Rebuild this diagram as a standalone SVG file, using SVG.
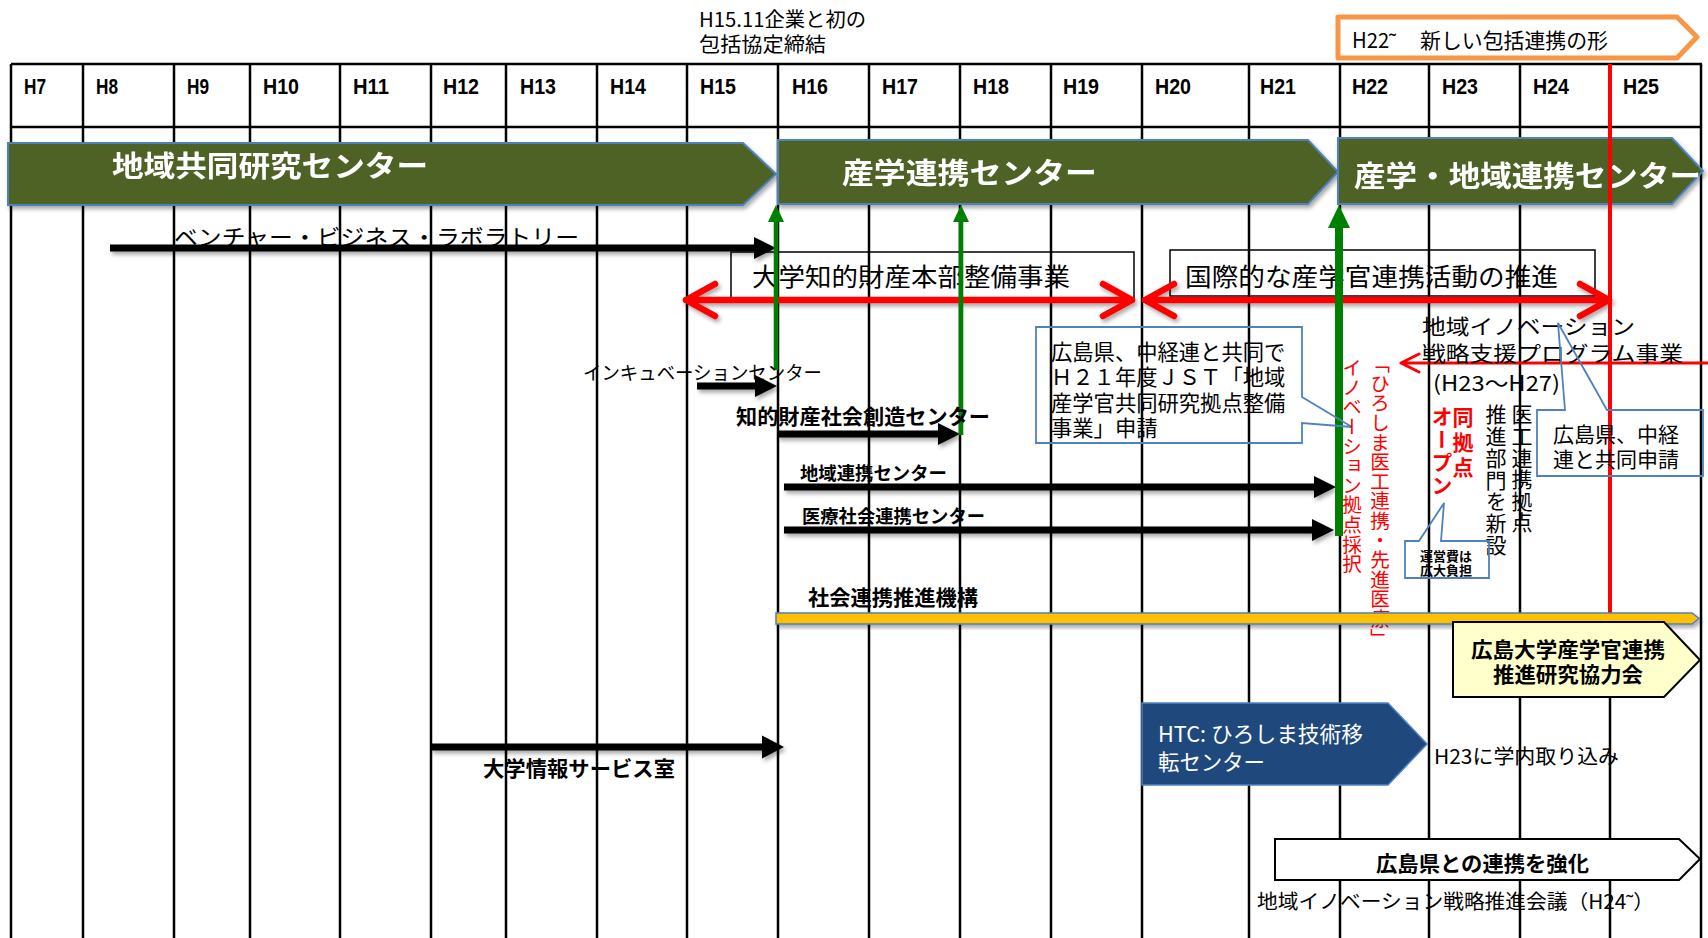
<svg xmlns="http://www.w3.org/2000/svg" width="1708" height="938" viewBox="0 0 1708 938">
<defs>
<style>
.grid{stroke:#000;stroke-width:2.5;fill:none}
.hdr{font-family:"Liberation Sans Narrow","Liberation Sans",sans-serif;font-weight:bold;font-size:22px;fill:#000}
.jp{font-family:"Noto Sans CJK JP","Noto Sans CJK SC",sans-serif;fill:#000;dominant-baseline:central}
.b{font-weight:bold}
.w{fill:#fff}
.r{fill:#f00}
.vt{writing-mode:vertical-rl}
.banner{fill:#4F6228;stroke:#4F81BD;stroke-width:2}
.callout{fill:none;stroke:#4F81BD;stroke-width:1.8}
.box{fill:none;stroke:#000;stroke-width:1.5}
.blk{fill:#000}
.red{stroke:#f00;fill:none;stroke-linecap:round;stroke-linejoin:round}
.grn{fill:#008000}
</style>
<filter id="sh" x="-5%" y="-30%" width="110%" height="180%">
<feDropShadow dx="2" dy="3" stdDeviation="2" flood-color="#000" flood-opacity="0.35"/>
</filter>
</defs>
<rect width="1708" height="938" fill="#fff"/>

<g id="table">
<path class="grid" d="M11,64H1702M11,127H1702"/>
<path class="grid" d="M11,64V938M83,64V938M174,64V938M250,64V938M340,64V938M431,64V938M506,64V938M597,64V938M687,64V938M778,64V938M869,64V938M960,64V938M1051,64V938M1142,64V938M1249,64V938M1340,64V938M1429,64V938M1520,64V938M1610,64V938M1701,64V938"/>
<text class="hdr" x="24" y="94" textLength="22" lengthAdjust="spacingAndGlyphs">H7</text>
<text class="hdr" x="96" y="94" textLength="22" lengthAdjust="spacingAndGlyphs">H8</text>
<text class="hdr" x="187" y="94" textLength="22" lengthAdjust="spacingAndGlyphs">H9</text>
<text class="hdr" x="263" y="94" textLength="36" lengthAdjust="spacingAndGlyphs">H10</text>
<text class="hdr" x="353" y="94" textLength="36" lengthAdjust="spacingAndGlyphs">H11</text>
<text class="hdr" x="443" y="94" textLength="36" lengthAdjust="spacingAndGlyphs">H12</text>
<text class="hdr" x="520" y="94" textLength="36" lengthAdjust="spacingAndGlyphs">H13</text>
<text class="hdr" x="610" y="94" textLength="36" lengthAdjust="spacingAndGlyphs">H14</text>
<text class="hdr" x="700" y="94" textLength="36" lengthAdjust="spacingAndGlyphs">H15</text>
<text class="hdr" x="792" y="94" textLength="36" lengthAdjust="spacingAndGlyphs">H16</text>
<text class="hdr" x="882" y="94" textLength="36" lengthAdjust="spacingAndGlyphs">H17</text>
<text class="hdr" x="973" y="94" textLength="36" lengthAdjust="spacingAndGlyphs">H18</text>
<text class="hdr" x="1063" y="94" textLength="36" lengthAdjust="spacingAndGlyphs">H19</text>
<text class="hdr" x="1155" y="94" textLength="36" lengthAdjust="spacingAndGlyphs">H20</text>
<text class="hdr" x="1260" y="94" textLength="36" lengthAdjust="spacingAndGlyphs">H21</text>
<text class="hdr" x="1352" y="94" textLength="36" lengthAdjust="spacingAndGlyphs">H22</text>
<text class="hdr" x="1442" y="94" textLength="36" lengthAdjust="spacingAndGlyphs">H23</text>
<text class="hdr" x="1533" y="94" textLength="36" lengthAdjust="spacingAndGlyphs">H24</text>
<text class="hdr" x="1623" y="94" textLength="36" lengthAdjust="spacingAndGlyphs">H25</text>
</g>

<g id="note-h15">
<text class="jp" x="699" y="18" font-size="20" textLength="167" lengthAdjust="spacingAndGlyphs">H15.11企業と初の</text>
<text class="jp" x="699" y="43" font-size="20" textLength="127" lengthAdjust="spacingAndGlyphs">包括協定締結</text>
</g>

<g id="new-form">
<path d="M1338,17H1677L1697,37L1677,58H1338Z" fill="#fff" stroke="#F79646" stroke-width="5" stroke-linejoin="round"/>
<text class="jp" x="1352" y="39" font-size="21" textLength="44" lengthAdjust="spacingAndGlyphs">H22˜</text>
<text class="jp" x="1420" y="39" font-size="21" textLength="188" lengthAdjust="spacingAndGlyphs">新しい包括連携の形</text>
</g>

<g id="center1" filter="url(#sh)">
<path class="banner" d="M8,143H743L776,174L743,205H8Z"/>
<text class="jp b w" x="112" y="164" font-size="29" textLength="316" lengthAdjust="spacingAndGlyphs">地域共同研究センター</text>
</g>
<g id="center2" filter="url(#sh)">
<path class="banner" d="M778,140H1308L1338,172L1308,204H778Z"/>
<text class="jp b w" x="842" y="171" font-size="29" textLength="255" lengthAdjust="spacingAndGlyphs">産学連携センター</text>
</g>
<g id="center3" filter="url(#sh)">
<path class="banner" d="M1338,138H1672L1703,171L1672,204H1338Z"/>
<text class="jp b w" x="1354" y="174" font-size="29" textLength="347" lengthAdjust="spacingAndGlyphs">産学・地域連携センター</text>
</g>

<g id="ip-hq">
<rect class="box" x="731" y="252" width="403" height="47"/>
<text class="jp" x="752" y="275" font-size="25" textLength="318" lengthAdjust="spacingAndGlyphs">大学知的財産本部整備事業</text>
</g>
<g id="intl">
<rect class="box" x="1170" y="250" width="425" height="46"/>
<text class="jp" x="1185" y="275" font-size="25" textLength="373" lengthAdjust="spacingAndGlyphs">国際的な産学官連携活動の推進</text>
</g>

<g id="connectors">
<g filter="url(#sh)">
<path class="blk" d="M110,244.5H754V237L776,248L754,259V251.5H110Z"/>
<path class="blk" d="M697,382.5H755V375L777,386L755,397V389.5H697Z"/>
<path class="blk" d="M777,430.5H938V423L960,434L938,445V437.5H777Z"/>
<path class="blk" d="M784,483.5H1314V476L1336,487L1314,498V490.5H784Z"/>
<path class="blk" d="M784,526.5H1312V519L1334,530L1312,541V533.5H784Z"/>
<path class="blk" d="M431,743.5H762V735.5L784,747L762,758.5V750.5H431Z"/>
<g class="red" stroke-width="6.5">
<path d="M686,300H1132M715,284L686,300L715,316M1103,284L1132,300L1103,316"/>
<path d="M1145,300H1609M1174,284L1145,300L1174,316M1580,284L1609,300L1580,316"/>
</g>
</g>
<path class="grn" d="M773.7,370V222H768L776,205L784,222H778.3V370Z"/>
<path class="grn" d="M958.7,435V222H953L961,205L969,222H963.3V435Z"/>
<path class="grn" d="M1335,536V228H1328L1339,205L1350,228H1343V536Z"/>
<path d="M1610,64V620" stroke="#f00" stroke-width="4"/>
<path class="red" stroke-width="3" d="M1708,363H1401M1419,354L1401,363L1419,372"/>
</g>

<g id="venture-label"><text class="jp" x="174" y="235" font-size="22" textLength="405" lengthAdjust="spacingAndGlyphs">ベンチャー・ビジネス・ラボラトリー</text></g>
<g id="incubation-label"><text class="jp" x="583" y="371" font-size="19" textLength="239" lengthAdjust="spacingAndGlyphs">インキュベーションセンター</text></g>
<g id="chiteki-label"><text class="jp b" x="736" y="415" font-size="21" textLength="254" lengthAdjust="spacingAndGlyphs">知的財産社会創造センター</text></g>
<g id="chiiki-label"><text class="jp b" x="800" y="472" font-size="18.5" textLength="147" lengthAdjust="spacingAndGlyphs">地域連携センター</text></g>
<g id="iryo-label"><text class="jp b" x="802" y="515" font-size="18.5" textLength="183" lengthAdjust="spacingAndGlyphs">医療社会連携センター</text></g>
<g id="joho-label"><text class="jp b" x="483" y="767" font-size="21" textLength="192" lengthAdjust="spacingAndGlyphs">大学情報サービス室</text></g>

<g id="callout-jst">
<path class="callout" d="M1036,327H1302V397L1352,427L1302,423V443H1036Z"/>
<text class="jp" x="1051" y="350" font-size="21.3">広島県、中経連と共同で</text>
<text class="jp" x="1051" y="375" font-size="21.3">Ｈ２１年度ＪＳＴ「地域</text>
<text class="jp" x="1051" y="401" font-size="21.3">産学官共同研究拠点整備</text>
<text class="jp" x="1051" y="426" font-size="21.3">事業」申請</text>
</g>

<g id="innovation-prog">
<text class="jp" x="1422" y="325" font-size="21" textLength="213" lengthAdjust="spacingAndGlyphs">地域イノベーション</text>
<text class="jp" x="1422" y="352" font-size="21" textLength="261" lengthAdjust="spacingAndGlyphs">戦略支援プログラム事業</text>
<text class="jp" x="1433" y="382" font-size="21" textLength="127" lengthAdjust="spacingAndGlyphs">(H23～H27)</text>
</g>

<g id="callout-joint">
<path class="callout" d="M1537,410H1565L1558,323L1607,410H1703V476H1537Z"/>
<text class="jp" x="1553" y="433" font-size="21">広島県、中経</text>
<text class="jp" x="1553" y="458" font-size="21">連と共同申請</text>
</g>

<g id="hiroshima-adopt">
<text class="jp r vt" x="1380" y="354" font-size="19.6">「ひろしま医工連携・先進医療」</text>
<text class="jp r vt" x="1352" y="358" font-size="19.6">イノベーション拠点採択</text>
</g>
<g id="open">
<text class="jp r b vt" x="1463" y="407" font-size="21" letter-spacing="4">同拠点</text>
<text class="jp r b vt" x="1442" y="406" font-size="21" letter-spacing="2">オープン</text>
</g>
<g id="new-dept">
<text class="jp vt" x="1522" y="404" font-size="21" letter-spacing="0.6">医工連携拠点</text>
<text class="jp vt" x="1496" y="404" font-size="21" letter-spacing="0.7">推進部門を新設</text>
</g>
<g id="callout-cost">
<path class="callout" d="M1405,541H1419L1444,503L1441,541H1489V578H1405Z"/>
<text class="jp b" x="1420" y="555" font-size="13">運営費は</text>
<text class="jp b" x="1420" y="569" font-size="13">広大負担</text>
</g>

<g id="social-org">
<text class="jp b" x="808" y="596" font-size="21" textLength="170" lengthAdjust="spacingAndGlyphs">社会連携推進機構</text>
<path d="M776,613H1692L1699,618.5L1692,624H776Z" fill="#FFC000" stroke="#4F81BD" stroke-width="1.5" filter="url(#sh)"/>
</g>

<g id="council">
<path d="M1453,622H1664L1700,660L1664,697H1453Z" fill="#FFFFCC" stroke="#000" stroke-width="2"/>
<text class="jp b" x="1471" y="648" font-size="21" textLength="194" lengthAdjust="spacingAndGlyphs">広島大学産学官連携</text>
<text class="jp b" x="1493" y="673" font-size="21" textLength="150" lengthAdjust="spacingAndGlyphs">推進研究協力会</text>
</g>

<g id="htc">
<path d="M1142,703H1388L1427,744L1388,785H1142Z" fill="#1F497D" stroke="#4F81BD" stroke-width="1.5"/>
<text class="jp w" x="1158" y="732" font-size="22" textLength="205" lengthAdjust="spacingAndGlyphs">HTC: ひろしま技術移</text>
<text class="jp w" x="1158" y="760" font-size="22" textLength="107" lengthAdjust="spacingAndGlyphs">転センター</text>
</g>
<g id="htc-note"><text class="jp" x="1434" y="755" font-size="20" textLength="185" lengthAdjust="spacingAndGlyphs">H23に学内取り込み</text></g>

<g id="pref">
<path d="M1275,839H1679L1700,859L1679,880H1275Z" fill="#fff" stroke="#000" stroke-width="2"/>
<text class="jp b" x="1376" y="862" font-size="21" textLength="213" lengthAdjust="spacingAndGlyphs">広島県との連携を強化</text>
</g>
<g id="pref-note"><text class="jp" x="1257" y="900" font-size="20" textLength="397" lengthAdjust="spacingAndGlyphs">地域イノベーション戦略推進会議（H24˜）</text></g>
</svg>
